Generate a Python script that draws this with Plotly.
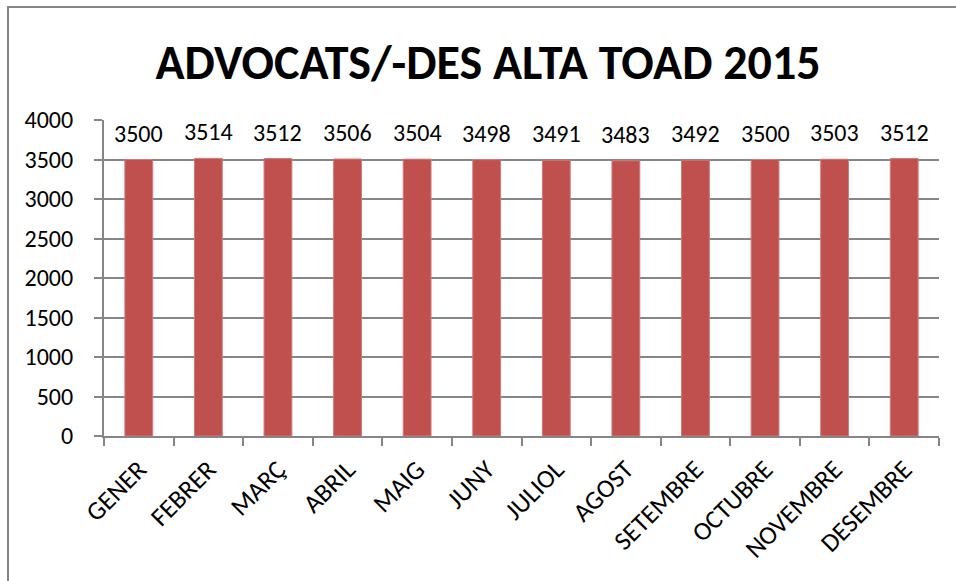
import plotly.graph_objects as go

months = ["GENER", "FEBRER", "MARÇ", "ABRIL", "MAIG", "JUNY", "JULIOL", "AGOST",
          "SETEMBRE", "OCTUBRE", "NOVEMBRE", "DESEMBRE"]
values = [3500, 3514, 3512, 3506, 3504, 3498, 3491, 3483, 3492, 3500, 3503, 3512]
y_ticks = [0, 500, 1000, 1500, 2000, 2500, 3000, 3500, 4000]
title_text = "ADVOCATS/-DES ALTA TOAD 2015"

W, H = 956, 581
L, R, T, B = 104, 939, 120, 436
FONT = "Calibri, Carlito, Lato, sans-serif"
AX = "#868686"

fig = go.Figure()
fig.add_trace(go.Bar(
    x=months, y=values,
    marker=dict(color="#C0504D", line=dict(color="#D27A78", width=1)),
    cliponaxis=False,
))
for m, v in zip(months, values):
    fig.add_annotation(x=m, y=v, text=str(v), showarrow=False, yanchor="bottom",
                       yshift=10, font=dict(family=FONT, size=24, color="black"))

pw, ph = R - L, B - T
fig.add_shape(type="rect", xref="paper", yref="paper",
              x0=(8 - L) / pw, x1=(W + 10 - L) / pw,
              y0=(B - (H + 10)) / ph, y1=(B - 7) / ph,
              line=dict(color=AX, width=2), fillcolor="rgba(0,0,0,0)", layer="below")

fig.update_layout(
    width=W, height=H,
    margin=dict(l=L, r=W - R, t=T, b=H - B, pad=0),
    paper_bgcolor="white", plot_bgcolor="white",
    showlegend=False,
    bargap=0.6,
    title=dict(text="<b>" + title_text + "</b>", x=488 / W, xref="container",
               xanchor="center", y=1 - 62 / H, yref="container", yanchor="middle",
               font=dict(family=FONT, size=48, color="black")),
    xaxis=dict(showline=True, linecolor=AX, linewidth=2,
               ticks="outside", tickson="boundaries", ticklen=8, tickcolor=AX, tickwidth=2,
               tickangle=-45, tickfont=dict(family=FONT, size=26, color="black"),
               ticklabelstandoff=6, showgrid=False),
    yaxis=dict(range=[0, 4000], tickvals=y_ticks, showline=True, linecolor=AX, linewidth=2,
               ticks="outside", ticklen=8, tickcolor=AX, tickwidth=2,
               showgrid=True, gridcolor=AX, gridwidth=1.5, zeroline=False,
               tickfont=dict(family=FONT, size=24, color="black"),
               ticklabelstandoff=16),
)

fig.write_html("out.html", config={"displayModeBar": False},
               post_script="document.body.style.margin='0';document.body.style.overflow='hidden';")
